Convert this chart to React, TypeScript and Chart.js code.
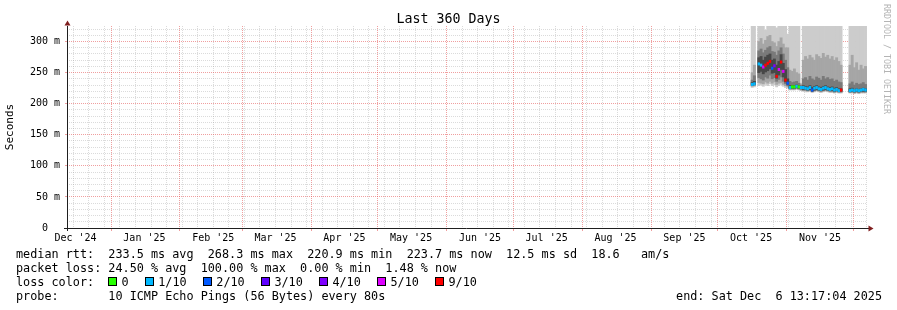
import React, { useEffect, useRef } from 'react';
import { Chart, registerables } from 'chart.js';

Chart.register(...registerables);

// ---------- time axis ----------
const START_MS = Date.UTC(2024, 11, 12, 4, 0, 0); // left edge of the 360-day window
const RANGE_DAYS = 360;
const DAY_MS = 86400000;
const MONTH_STARTS = [
  '2024-12-01', '2025-01-01', '2025-02-01', '2025-03-01', '2025-04-01', '2025-05-01',
  '2025-06-01', '2025-07-01', '2025-08-01', '2025-09-01', '2025-10-01', '2025-11-01', '2025-12-01',
];
const MONTH_LABELS = [
  "Dec '24", "Jan '25", "Feb '25", "Mar '25", "Apr '25", "May '25",
  "Jun '25", "Jul '25", "Aug '25", "Sep '25", "Oct '25", "Nov '25", "Dec '25",
];
const LABEL_OFFSET_DAYS = 15;
const FIRST_WEEK = '2024-12-15';
const WEEK_DAYS = 7;

// ---------- value axis ----------
const Y_MAX = 325;
const Y_TICKS = [0, 10, 20, 30, 40, 50, 60, 70, 80, 90, 100, 110, 120, 130, 140, 150, 160, 170, 180, 190, 200, 210, 220, 230, 240, 250, 260, 270, 280, 290, 300, 310, 320];
const Y_MAJOR = 50;

// ---------- data (daily, ms) starting 2025-10-16 ----------
const SERIES_START = '2025-10-16';
const MEDIAN = [231, 232, null, 264, 262, 259, 262, 265, 268, 257, 261, 244, 255, 267, 252, 238,
  233, 226, 227, 227, 228, 227, 226, 226, 225, 224, 226, 222, 225, 226, 224, 223, 225, 226, 224, 223, 224, 222, 223, 221, 222,
  null, null, null, 221, 222, 221, 222, 221, 222, 223, 222];
const LOSS = [1, 1, null, 1, 1, 5, 9, 9, 9, 2, 4, 9, 5, 9, 5, 9,
  2, 1, 0, 0, 1, 0, 1, 1, 1, 1, 1, 2, 1, 1, 1, 1, 1, 1, 1, 1, 1, 1, 1, 1, 9,
  null, null, null, 1, 1, 1, 1, 1, 1, 1, 1];
const S1_LO = [226, 227, null, 229, 230, 228, 231, 229, 232, 229, 230, 227, 229, 231, 228, 226,
  225, 222, 222, 222, 223, 222, 221, 220, 219, 219, 220, 218, 219, 220, 219, 218, 219, 220, 219, 218, 218, 217, 218, 217, 217,
  null, null, null, 217, 217, 216, 217, 216, 217, 217, 217];
const S1_HI = [330, 330, null, 330, 330, 330, 318, 330, 330, 330, 330, 322, 330, 330, 330, 330,
  312, 330, 330, 330, 330, 330, 233, 330, 330, 330, 330, 330, 330, 330, 330, 330, 330, 330, 330, 330, 330, 330, 330, 330, 330,
  null, null, null, 330, 330, 330, 330, 330, 330, 330, 330];
const S2_LO = [228, 229, null, 234, 233, 232, 235, 233, 236, 233, 235, 231, 233, 234, 231, 229,
  227, 223, 223, 223, 224, 223, 222, 221, 221, 220, 221, 219, 220, 221, 220, 219, 220, 221, 220, 219, 219, 218, 219, 218, 218,
  null, null, null, 218, 218, 217, 218, 217, 218, 218, 218];
const S2_HI = [250, 262, null, 300, 305, 296, 302, 308, 310, 300, 298, 292, 300, 306, 296, 290,
  290, 254, 252, 256, 250, 248, 231, 270, 276, 272, 278, 274, 270, 279, 276, 273, 281, 275, 278, 272, 276, 270, 274, 268, 262,
  null, null, null, 262, 278, 258, 266, 254, 262, 256, 260];
const S3_LO = [229, 230, null, 242, 240, 238, 243, 241, 246, 240, 242, 236, 239, 243, 236, 232,
  229, 224, 224, 224, 225, 224, 223, 222, 222, 221, 222, 220, 221, 222, 221, 220, 221, 222, 221, 220, 220, 219, 220, 219, 219,
  null, null, null, 219, 219, 218, 219, 218, 219, 219, 219];
const S3_HI = [238, 245, null, 285, 288, 282, 286, 290, 292, 284, 283, 278, 285, 290, 280, 270,
  258, 236, 234, 235, 236, 233, 229, 240, 242, 238, 244, 240, 238, 243, 241, 238, 244, 240, 242, 239, 240, 236, 238, 235, 234,
  null, null, null, 232, 235, 230, 233, 231, 232, 234, 231];
const S4_LO = [230, 231, null, 250, 252, 248, 251, 253, 256, 249, 250, 241, 246, 255, 243, 235,
  231, 225, 225, 225, 226, 225, null, 223, 223, 222, 223, 220, 222, 223, 222, 221, 222, 223, 222, 221, 221, 220, 221, 220, 220,
  null, null, null, 219, 220, 219, 220, 219, 220, 220, 220];
const S4_HI = [234, 236, null, 274, 276, 270, 275, 278, 280, 270, 272, 262, 268, 279, 265, 255,
  240, 229, 229, 229, 230, 229, null, 229, 228, 227, 229, 226, 228, 229, 227, 226, 228, 229, 227, 226, 227, 225, 226, 224, 224,
  null, null, null, 224, 225, 223, 224, 223, 224, 225, 224];

const LOSS_LEVELS = [0, 1, 2, 3, 4, 5, 9];
const LOSS_LABELS = ['0', '1/10', '2/10', '3/10', '4/10', '5/10', '9/10'];
const LOSS_COLORS: Record<number, string> = {
  0: '#26ff00', 1: '#00b8ff', 2: '#0059ff', 3: '#5e00ff', 4: '#7e00ff', 5: '#dd00ff', 9: '#ff0000',
};

const TITLE = 'Last 360 Days';
const LINE_RTT = 'median rtt:  233.5 ms avg  268.3 ms max  220.9 ms min  223.7 ms now  12.5 ms sd  18.6   am/s';
const LINE_LOSS = 'packet loss: 24.50 % avg  100.00 % max  0.00 % min  1.48 % now';
const LINE_COLOR = 'loss color:';
const LINE_PROBE = 'probe:       10 ICMP Echo Pings (56 Bytes) every 80s';
const LINE_END = 'end: Sat Dec  6 13:17:04 2025';
const WATERMARK = 'RRDTOOL / TOBI OETIKER';

// ---------- styles ----------
const MONO = "'DejaVu Sans Mono', monospace";
const MAJOR_GRID = 'rgba(228,80,80,0.55)';
const MINOR_GRID = 'rgba(143,143,143,0.32)';
const AXIS_COLOR = '#1f1f1f';
const ARROW_COLOR = '#801f1f';
const SMOKE_COLORS = ['#cccccc', '#a6a6a6', '#7a7a7a', '#474747'];
const LEGEND_BOX_X = [108, 144.7, 202.8, 260.9, 318.9, 377, 435];
const LEGEND_TEXT_GAP = 13.5;

const dayOf = (iso: string) => (Date.parse(iso + 'T00:00:00Z') - START_MS) / DAY_MS;

export default function App() {
  const ref = useRef<HTMLCanvasElement>(null);

  useEffect(() => {
    const canvas = ref.current;
    if (!canvas) return;

    // x ticks keyed by position: grid kind (month / week / none) and label text
    type XT = { value: number; grid: 'month' | 'week' | 'none'; text: string };
    const xmap = new Map<string, XT>();
    const keyOf = (v: number) => v.toFixed(3);
    const put = (v: number, grid: XT['grid'] | null, text: string | null) => {
      const k = keyOf(v);
      const cur = xmap.get(k) || { value: v, grid: 'none' as XT['grid'], text: '' };
      if (grid === 'month' || (grid === 'week' && cur.grid === 'none')) cur.grid = grid;
      if (text) cur.text = text;
      xmap.set(k, cur);
    };
    const monthDays = MONTH_STARTS.map(dayOf);
    monthDays.forEach((d) => {
      if (d > 0 && d < RANGE_DAYS) put(d, 'month', null);
    });
    monthDays.forEach((d, i) => {
      const c = d + LABEL_OFFSET_DAYS;
      if (c > 0 && c < RANGE_DAYS) put(c, null, MONTH_LABELS[i]);
    });
    for (let w = dayOf(FIRST_WEEK); w < RANGE_DAYS; w += WEEK_DAYS) put(w, 'week', null);
    const xt = Array.from(xmap.values()).sort((a, b) => a.value - b.value);
    const findX = (v: number) => xmap.get(keyOf(v));

    const base = dayOf(SERIES_START);
    const bars = (lo: (number | null)[], hi: (number | null)[]) =>
      lo.map((l, i) => (l == null || hi[i] == null ? null : { x: base + i + 0.5, y: [l, hi[i]] }))
        .filter((p) => p !== null);
    const medianPts = MEDIAN.map((m, i) => ({ x: base + i + 0.5, y: m }));
    const medianColors = LOSS.map((l) => (l == null ? 'transparent' : LOSS_COLORS[l]));

    const smoke = [[S1_LO, S1_HI], [S2_LO, S2_HI], [S3_LO, S3_HI], [S4_LO, S4_HI]];
    const barSets = smoke.map(([lo, hi], k) => ({
      type: 'bar' as const,
      label: 'smoke' + (k + 1),
      data: bars(lo, hi) as any,
      backgroundColor: SMOKE_COLORS[k],
      borderWidth: 0,
      grouped: false,
      barThickness: 800 / RANGE_DAYS,
      order: 4 - k,
    }));

    const axesPlugin = {
      id: 'rrdAxes',
      afterDraw(chart: any) {
        const { ctx, chartArea } = chart;
        const { left, right, top, bottom } = chartArea;
        ctx.save();
        ctx.strokeStyle = AXIS_COLOR;
        ctx.lineWidth = 1;
        ctx.beginPath();
        ctx.moveTo(left - 3, bottom + 0.5);
        ctx.lineTo(right + 2, bottom + 0.5);
        ctx.moveTo(left + 0.5, bottom + 3);
        ctx.lineTo(left + 0.5, top);
        ctx.stroke();
        ctx.fillStyle = ARROW_COLOR;
        ctx.beginPath();
        ctx.moveTo(left - 2.5, top - 0.5);
        ctx.lineTo(left + 3.5, top - 0.5);
        ctx.lineTo(left + 0.5, top - 5.5);
        ctx.closePath();
        ctx.fill();
        ctx.beginPath();
        ctx.moveTo(right + 1.5, bottom - 2.5);
        ctx.lineTo(right + 1.5, bottom + 3.5);
        ctx.lineTo(right + 6.5, bottom + 0.5);
        ctx.closePath();
        ctx.fill();
        ctx.restore();
      },
    };

    const chart = new Chart(canvas, {
      type: 'bar',
      data: {
        datasets: [
          ...barSets,
          {
            type: 'line' as const,
            label: 'median',
            data: medianPts as any,
            showLine: false,
            pointStyle: 'line',
            pointRadius: 1.2,
            pointHoverRadius: 1.2,
            pointBorderWidth: 3,
            pointBorderColor: medianColors,
            pointBackgroundColor: medianColors,
            order: 0,
          } as any,
        ],
      },
      options: {
        animation: false,
        responsive: false,
        devicePixelRatio: 1,
        events: [],
        layout: { padding: { top: 26, right: 30, bottom: 0, left: 0 } },
        plugins: { legend: { display: false }, title: { display: false }, tooltip: { enabled: false } },
        scales: {
          x: {
            type: 'linear',
            min: 0,
            max: RANGE_DAYS,
            offset: false,
            afterBuildTicks: (s: any) => {
              s.ticks = xt.map((t) => ({ value: t.value }));
            },
            afterFit: (s: any) => {
              s.height = 82;
            },
            grid: {
              offset: false,
              lineWidth: 1,
              color: (c: any) => {
                const t = c.tick ? findX(c.tick.value) : undefined;
                if (!t) return 'transparent';
                return t.grid === 'month' ? MAJOR_GRID : t.grid === 'week' ? MINOR_GRID : 'transparent';
              },
              tickLength: 3,
              tickWidth: 1,
              tickColor: (c: any) => {
                const t = c.tick ? findX(c.tick.value) : undefined;
                return t && t.grid === 'month' ? MAJOR_GRID : 'transparent';
              },
            },
            border: { display: false, dash: [1, 1] },
            ticks: {
              autoSkip: false,
              maxRotation: 0,
              minRotation: 0,
              padding: 1,
              color: '#000',
              font: { family: MONO, size: 10 },
              callback: (v: any) => {
                const t = findX(Number(v));
                return t ? t.text : '';
              },
            },
          },
          y: {
            min: 0,
            max: Y_MAX,
            afterBuildTicks: (s: any) => {
              s.ticks = Y_TICKS.map((v) => ({ value: v }));
            },
            afterFit: (s: any) => {
              s.width = 67;
            },
            grid: {
              lineWidth: 1,
              color: (c: any) => (c.tick && c.tick.value % Y_MAJOR === 0 ? MAJOR_GRID : MINOR_GRID),
              tickLength: 2,
              tickColor: (c: any) => (c.tick && c.tick.value % Y_MAJOR === 0 ? MAJOR_GRID : 'transparent'),
            },
            border: { display: false, dash: [1, 1] },
            ticks: {
              autoSkip: false,
              padding: 5,
              color: '#000',
              font: { family: MONO, size: 10 },
              callback: (v: any) => {
                const n = Number(v);
                if (n % Y_MAJOR !== 0) return '';
                return n === 0 ? '0  ' : `${n} m`;
              },
            },
            title: {
              display: true,
              text: 'Seconds',
              color: '#000',
              font: { family: MONO, size: 11 },
              padding: { top: 4, bottom: 0 },
            },
          },
        },
      } as any,
      plugins: [axesPlugin],
    });

    return () => chart.destroy();
  }, []);

  const textStyle: React.CSSProperties = {
    position: 'absolute',
    fontFamily: MONO,
    fontSize: 11.8,
    lineHeight: '14px',
    whiteSpace: 'pre',
    color: '#000',
  };

  return (
    <div style={{ position: 'absolute', left: 0, top: 0, width: 897, height: 310, background: '#fff', overflow: 'hidden' }}>
      <canvas ref={ref} width={897} height={310} style={{ position: 'absolute', left: 0, top: 0, width: 897, height: 310 }} />
      <div style={{ position: 'absolute', left: 0, top: 11, width: 897, textAlign: 'center', fontFamily: MONO, fontSize: 13.3, lineHeight: '16px', color: '#000', whiteSpace: 'pre' }}>{TITLE}</div>
      <div style={{ position: 'absolute', left: 881.5, top: 4, width: 10, writingMode: 'vertical-rl', fontFamily: MONO, fontSize: 8.3, lineHeight: '10px', color: '#b4b4b4', whiteSpace: 'pre' }}>{WATERMARK}</div>
      <div style={{ ...textStyle, left: 16, top: 247 }}>{LINE_RTT}</div>
      <div style={{ ...textStyle, left: 16, top: 261 }}>{LINE_LOSS}</div>
      <div style={{ ...textStyle, left: 16, top: 275 }}>{LINE_COLOR}</div>
      {LOSS_LEVELS.map((lv, i) => (
        <React.Fragment key={lv}>
          <div style={{ position: 'absolute', left: LEGEND_BOX_X[i], top: 277, width: 9, height: 9, boxSizing: 'border-box', border: '1px solid #000', background: LOSS_COLORS[lv] }} />
          <div style={{ ...textStyle, left: LEGEND_BOX_X[i] + LEGEND_TEXT_GAP, top: 275 }}>{LOSS_LABELS[i]}</div>
        </React.Fragment>
      ))}
      <div style={{ ...textStyle, left: 16, top: 289 }}>{LINE_PROBE}</div>
      <div style={{ ...textStyle, right: 15, top: 289 }}>{LINE_END}</div>
    </div>
  );
}
